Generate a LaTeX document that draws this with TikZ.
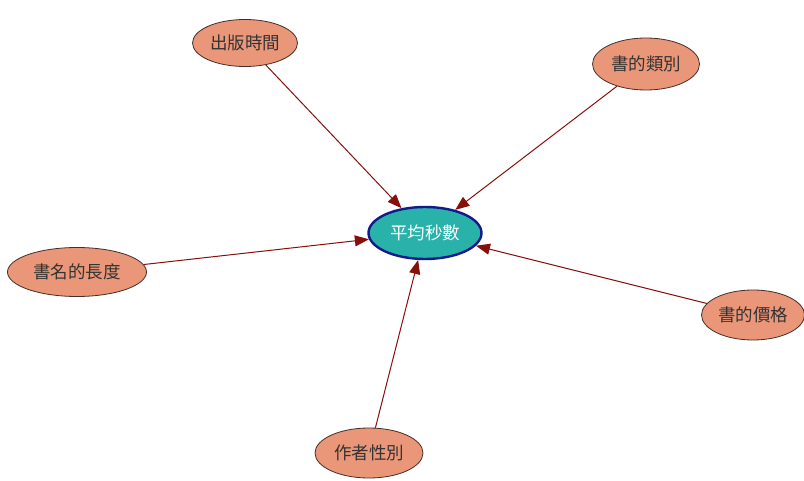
\documentclass[tikz,border=0pt]{standalone}
\usepackage{fontspec}
\newfontfamily\cjk{Noto Sans CJK TC}
\usetikzlibrary{shapes.geometric,arrows.meta}
\definecolor{factorfill}{RGB}{234,150,120}
\definecolor{factordraw}{RGB}{70,45,40}
\definecolor{hubfill}{RGB}{40,178,170}
\definecolor{hubdraw}{RGB}{20,25,140}
\definecolor{linkcol}{RGB}{135,15,10}
\tikzset{
  x=1pt, y=1pt,
  factor/.style={ellipse, draw=factordraw, line width=0.8pt, fill=factorfill,
    inner sep=0pt, font=\cjk\fontsize{17.5}{17.5}\selectfont, text=black!80},
  hub/.style={ellipse, draw=hubdraw, line width=2.4pt, fill=hubfill,
    inner sep=0pt, minimum width=113pt, minimum height=52pt,
    font=\cjk\fontsize{17.5}{17.5}\selectfont, text=white},
  link/.style={draw=linkcol, line width=1pt,
    -{Triangle[length=14pt,width=11pt]}}
}
\begin{document}
\begin{tikzpicture}
\useasboundingbox (0,0) rectangle (804,480);
\node[hub] (avg) at (425,247) {平均秒數};
\node[factor, minimum width=105pt, minimum height=47pt] (pub) at (245,437) {出版時間};
\node[factor, minimum width=107pt, minimum height=52pt] (cat) at (646,416) {書的類別};
\node[factor, minimum width=139pt, minimum height=49pt] (title) at (77,208) {書名的長度};
\node[factor, minimum width=103pt, minimum height=50pt] (price) at (753,165) {書的價格};
\node[factor, minimum width=108pt, minimum height=50pt] (gender) at (369,27) {作者性別};
\draw[link] (pub) -- (avg);
\draw[link] (cat) -- (avg);
\draw[link] (title) -- (avg);
\draw[link] (price) -- (avg);
\draw[link] (gender) -- (avg);
\end{tikzpicture}
\end{document}
